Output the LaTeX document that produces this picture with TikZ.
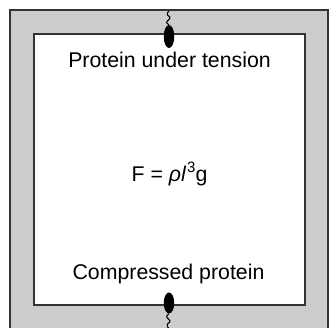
\documentclass[tikz,border=0pt]{standalone}
\usepackage{fontspec}
\setmainfont{Liberation Sans}
\usetikzlibrary{shapes.geometric}
\begin{document}
\begin{tikzpicture}[x=1pt,y=-1pt,
  frame/.style={draw=black!80, line width=1.4pt},
  knob/.style={ellipse, fill=black, draw=none, inner sep=0pt, minimum width=10.5pt},
  lbl/.style={font=\fontsize{21.3}{25}\selectfont, inner sep=0pt, anchor=base},
  wig/.style={draw=black, line width=1.1pt}]
\useasboundingbox (0,0) rectangle (333,328);
% outer gray band
\fill[black!20] (10,10) rectangle (328,332);
\draw[frame] (10,332) -- (10,10) -- (328,10) -- (328,332);
% inner white box
\fill[white] (34,34) rectangle (305,305);
\draw[frame] (34,34) rectangle (305,305);
% knobs
\node[knob, minimum height=23pt] (topknob) at (169,36.5) {};
\node[knob, minimum height=21pt] (botknob) at (169,303) {};
\coordinate (topend) at (169,11);
\coordinate (botend) at (169,329);
\draw[wig] (topknob.north) .. controls (166,23) and (166,22) .. (168.5,20)
  .. controls (171,18) and (170,16) .. (167.5,15)
  .. controls (166,14) and (168,12) .. (topend);
\draw[wig] (botknob.south) .. controls (166,316) and (166,317) .. (168.5,319)
  .. controls (171,321) and (170,323) .. (167.5,324)
  .. controls (166,325) and (168,327) .. (botend);
% texts
\node[lbl] (tension) at (169.5,67.7) {Protein under tension};
\node[lbl] (formula) at (169.5,181.5) {F\hspace{0.28em}=\hspace{0.28em}{\itshape ρl}\hspace{0.06em}\raisebox{0.42em}{\fontsize{15}{17}\selectfont 3}g};
\node[lbl] (compressed) at (168.5,279.5) {Compressed protein};
\end{tikzpicture}
\end{document}
